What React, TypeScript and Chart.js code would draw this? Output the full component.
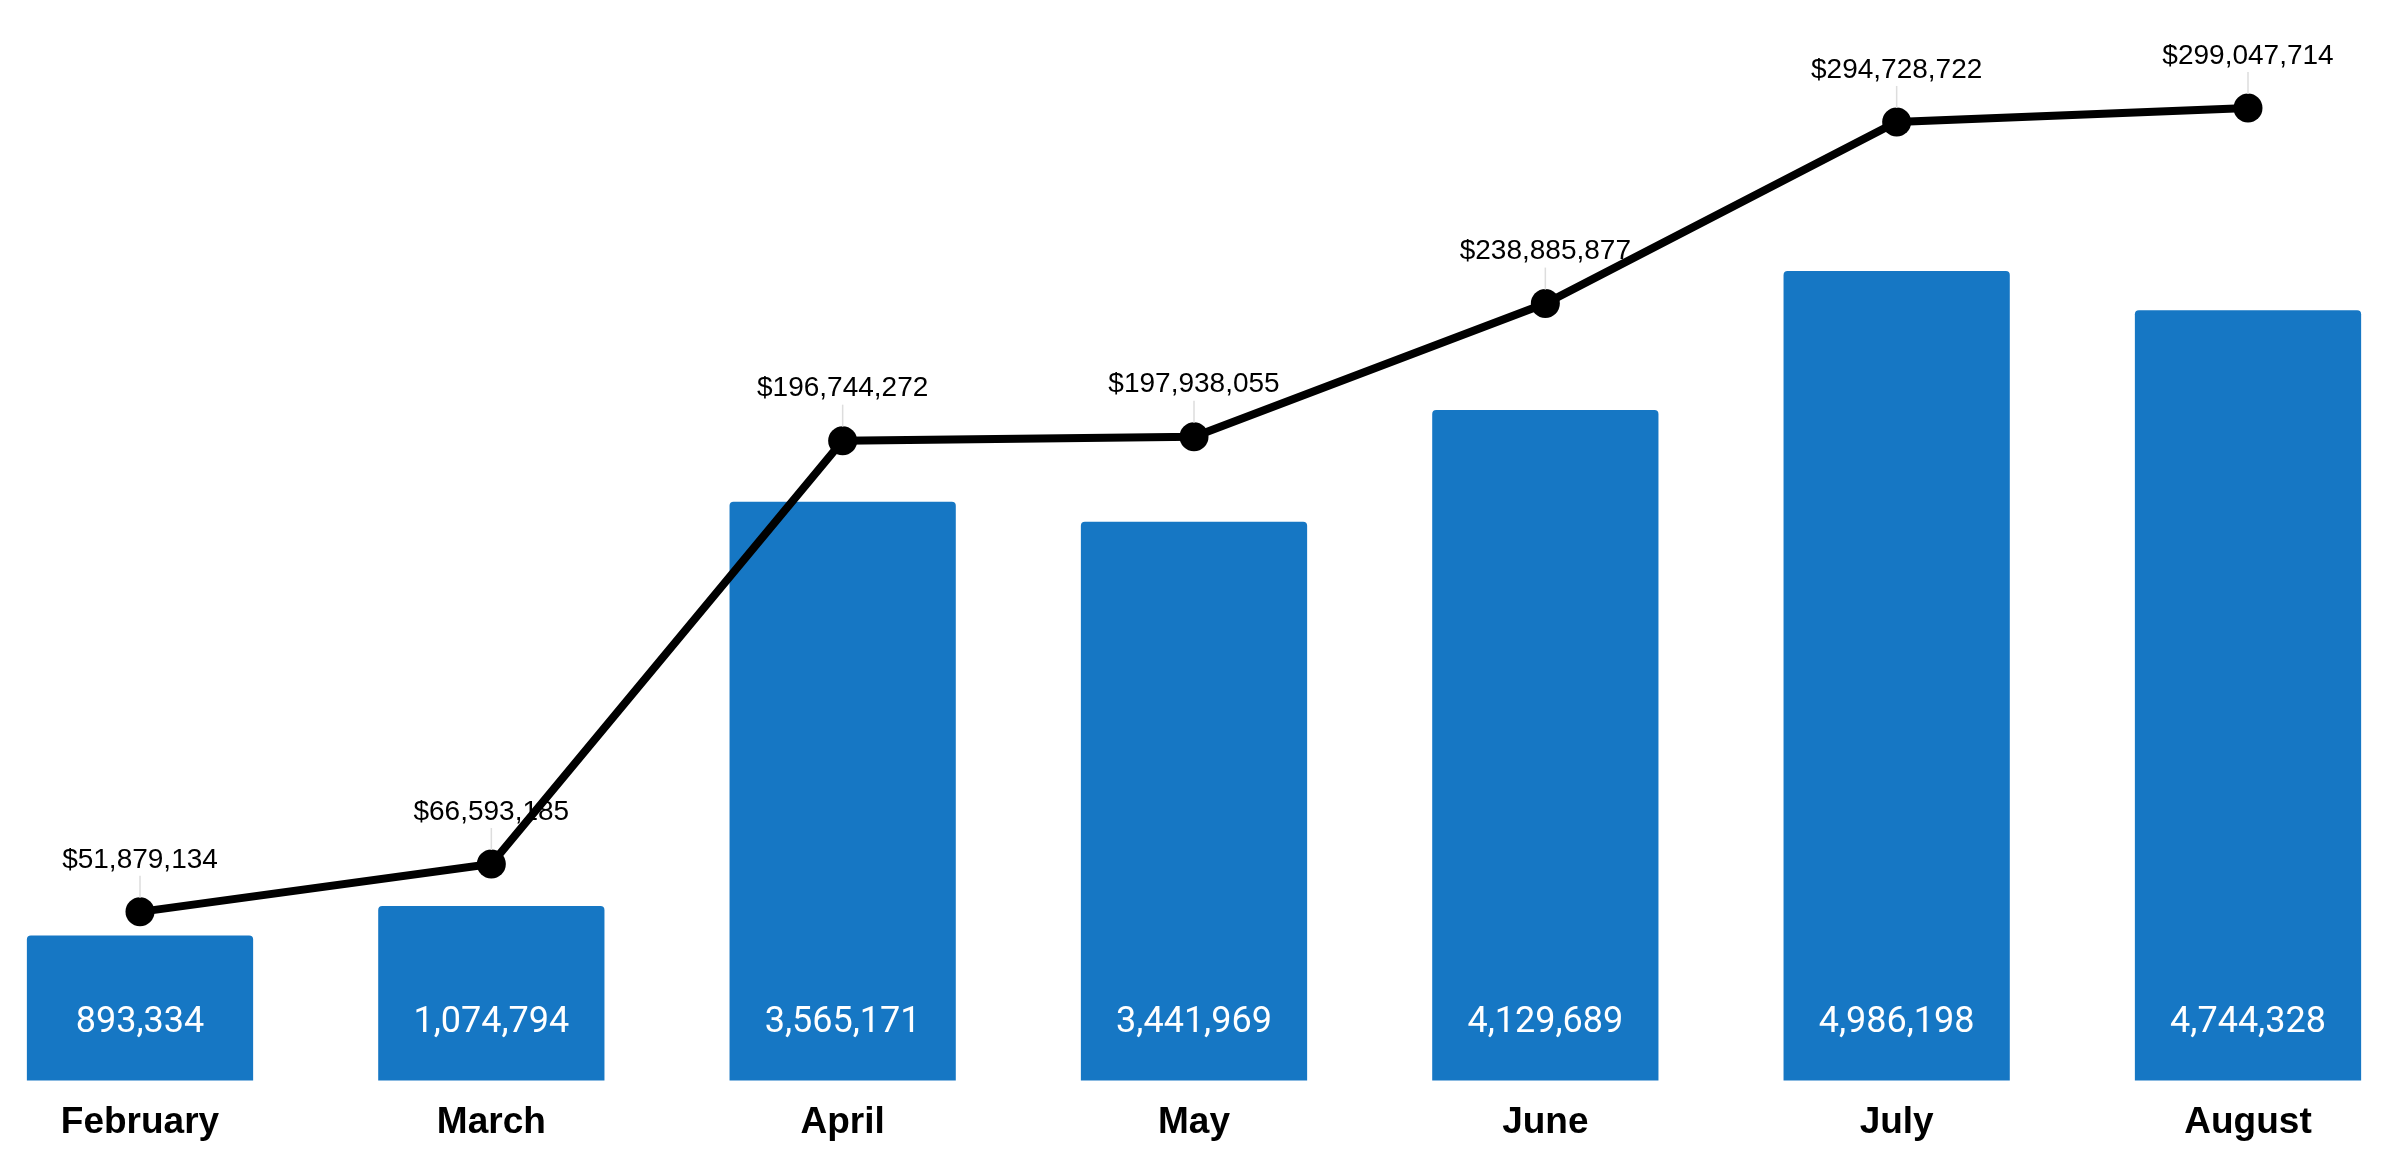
import React, { useEffect, useRef } from "react";
import { Chart, registerables } from "chart.js";

Chart.register(...registerables);

const months = ["February", "March", "April", "May", "June", "July", "August"];
const barValues = [893334, 1074794, 3565171, 3441969, 4129689, 4986198, 4744328];
const lineValues = [51879134, 66593185, 196744272, 197938055, 238885877, 294728722, 299047714];

const BAR_COLOR = "#1677C4";

const fmt = (v: number) => v.toLocaleString("en-US");

const labelPlugin = {
  id: "valueLabels",
  afterDatasetsDraw(chart: any) {
    const ctx = chart.ctx;
    ctx.save();
    const barMeta = chart.getDatasetMeta(1);
    ctx.font = "36px Roboto";
    ctx.fillStyle = "#ffffff";
    ctx.textAlign = "center";
    ctx.textBaseline = "middle";
    barMeta.data.forEach((el: any, i: number) => {
      ctx.fillText(fmt(barValues[i]), el.x, el.base - 58);
    });
    const lineMeta = chart.getDatasetMeta(0);
    ctx.font = "28px 'Liberation Sans', Arial, sans-serif";
    ctx.fillStyle = "#000000";
    lineMeta.data.forEach((el: any, i: number) => {
      ctx.strokeStyle = "#dddddd";
      ctx.lineWidth = 1.5;
      ctx.beginPath();
      ctx.moveTo(el.x, el.y - 36);
      ctx.lineTo(el.x, el.y - 14);
      ctx.stroke();
      ctx.fillText("$" + fmt(lineValues[i]), el.x, el.y - 52);
    });
    ctx.restore();
  },
};

export default function App() {
  const ref = useRef<HTMLCanvasElement | null>(null);
  useEffect(() => {
    if (!ref.current) return;
    const chart = new Chart(ref.current, {
      data: {
        labels: months,
        datasets: [
          {
            type: "line",
            data: lineValues,
            yAxisID: "y1",
            borderColor: "#000000",
            borderWidth: 8,
            pointRadius: 14.5,
            pointHoverRadius: 14.5,
            pointBackgroundColor: "#000000",
            pointBorderColor: "#000000",
            pointBorderWidth: 0,
            tension: 0,
            order: 0,
            clip: false,
          } as any,
          {
            type: "bar",
            data: barValues,
            yAxisID: "y",
            backgroundColor: BAR_COLOR,
            borderRadius: { topLeft: 4, topRight: 4, bottomLeft: 0, bottomRight: 0 },
            borderSkipped: "bottom",
            categoryPercentage: 1,
            barPercentage: 0.644,
            order: 1,
            clip: false,
          } as any,
        ],
      },
      options: {
        animation: false,
        responsive: true,
        maintainAspectRatio: false,
        layout: { padding: { left: 140, right: 150, top: 30, bottom: 11 } },
        plugins: {
          legend: { display: false },
          tooltip: { enabled: false },
        },
        scales: {
          x: {
            type: "category",
            offset: false,
            grid: { display: false, drawTicks: false },
            border: { display: false },
            ticks: {
              padding: 20,
              color: "#000000",
              font: { family: "'Liberation Sans', Arial, sans-serif", size: 37, weight: "bold" },
              maxRotation: 0,
              autoSkip: false,
            },
          },
          y: {
            type: "linear",
            display: false,
            min: 0,
            max: 6470000,
          },
          y1: {
            type: "linear",
            display: false,
            min: 0,
            max: 323000000,
          },
        },
      } as any,
      plugins: [labelPlugin],
    });
    return () => chart.destroy();
  }, []);
  return (
    <div style={{ position: "fixed", left: 0, top: 0, width: 2398, height: 1176, background: "#fff" }}>
      <canvas ref={ref} />
    </div>
  );
}
